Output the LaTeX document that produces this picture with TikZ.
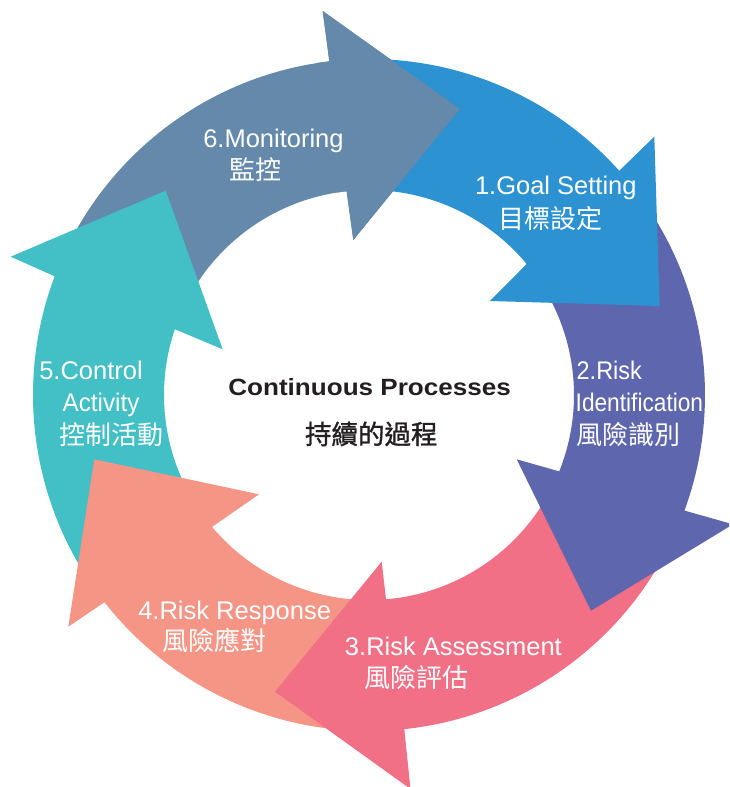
\documentclass[tikz,border=0pt]{standalone}
\usepackage{fontspec}
\setmainfont{Liberation Sans}
\newfontfamily\cjk{Noto Sans CJK TC}
\newfontfamily\cjkmid[FakeBold=1.2]{Noto Sans CJK TC}
\definecolor{cslate}{RGB}{100,137,170}
\definecolor{cblue}{RGB}{44,146,210}
\definecolor{cpurple}{RGB}{94,102,174}
\definecolor{cred}{RGB}{241,112,134}
\definecolor{csalmon}{RGB}{245,149,134}
\definecolor{cteal}{RGB}{66,192,198}
\definecolor{cdark}{RGB}{35,31,32}
\def\Ro{336pt}
\def\Ri{205pt}
% color, outer start, outer end, inner end, inner start, outer barb, tip, inner barb
\newcommand{\cyclearrow}[8]{%
  \fill[#1] (#2:\Ro) arc[start angle=#2, end angle=#3, radius=\Ro] -- #6 -- #7 -- #8
    -- (#4:\Ri) arc[start angle=#4, end angle=#5, radius=\Ri] -- cycle;}
\tikzset{
  lbl/.style={text=white, anchor=base west, inner sep=0pt, outer sep=0pt, font=\fontsize{25.5}{30}\selectfont},
  lblcjk/.style={lbl, font=\cjk\fontsize{26}{30}\selectfont},
  ctr/.style={text=cdark, anchor=base west, inner sep=0pt, outer sep=0pt, font=\bfseries\fontsize{23.5}{28}\selectfont},
  ctrcjk/.style={ctr, font=\cjkmid\fontsize{26.5}{30}\selectfont}
}
\begin{document}
\begin{tikzpicture}[x=1pt,y=1pt]
\useasboundingbox (-369,-392) rectangle (360,395);
\clip (-369,-392) rectangle (360,395);
% arrows (drawn so that each head lies over the next tail)
\cyclearrow{cslate}{159.31}{96.78}{96.26}{161.29}{(-46.3,384)}{(91,286)}{(-15.7,155)}
\cyclearrow{cteal}{-141.93}{-200.69}{-198.71}{-139.95}{(-358.3,138.3)}{(-203.3,204.3)}{(-146.3,45.7)}
\cyclearrow{csalmon}{-83.97}{-141.93}{-139.95}{-85.24}{(-300.7,-231.7)}{(-274.7,-64.3)}{(-110,-99.3)}
\cyclearrow{cred}{-20.12}{-83.97}{-85.24}{-21.88}{(41.5,-394)}{(-94,-296.7)}{(12.7,-166.7)}
\cyclearrow{cpurple}{41.86}{-20.12}{-21.88}{39.72}{(364,-129.3)}{(222,-215.7)}{(147.7,-64.3)}
\cyclearrow{cblue}{96.78}{41.86}{39.72}{96.26}{(285.3,258.3)}{(290.7,89)}{(121,94)}
% head of the slate arrow over the blue tail
\fill[cslate] (99:\Ro) arc[start angle=99, end angle=96.78, radius=\Ro] -- (-46.3,384) -- (91,286) -- (-15.7,155)
  -- (96.26:\Ri) arc[start angle=96.26, end angle=99, radius=\Ri] -- cycle;
% labels
\node[lbl] (m6) at (-165.7,247.3) {6.Monitoring};
\node[lblcjk] (m6c) at (-139,215.5) {監控};
\node[lbl] (g1) at (106,200) {1.Goal Setting};
\node[lblcjk] (g1c) at (129.3,166.5) {目標設定};
\node[lbl] (r2) at (207.7,15.7) {\scalebox{0.92}[1]{2.Risk}};
\node[lbl] (r2b) at (206.7,-16.7) {\scalebox{0.89}[1]{Identification}};
\node[lblcjk] (r2c) at (207.7,-49.5) {風險識別};
\node[lbl] (a3) at (-24,-260) {3.Risk Assessment};
\node[lblcjk] (a3c) at (-4,-292) {風險評估};
\node[lbl] (p4) at (-230.7,-224) {4.Risk Response};
\node[lblcjk] (p4c) at (-206.7,-255) {風險應對};
\node[lbl] (c5) at (-329.7,15) {5.Control};
\node[lbl] (c5b) at (-306.3,-16.7) {\scalebox{0.95}[1]{Activity}};
\node[lblcjk] (c5c) at (-309.7,-49.5) {控制活動};
\node[ctr] (t0) at (-140.7,-1) {\scalebox{1.11}[1]{Continuous Processes}};
\node[ctrcjk] (t0c) at (-64,-49) {持續的過程};
\end{tikzpicture}
\end{document}
